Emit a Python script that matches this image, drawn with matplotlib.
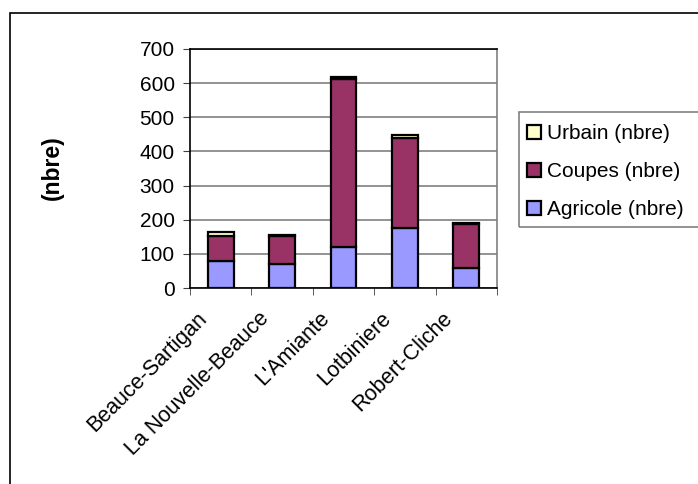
#!/usr/bin/env python
import matplotlib.pyplot as plt
import matplotlib.transforms as mtransforms
from matplotlib.patches import Rectangle
import numpy as np

plt.rcParams["font.family"] = ["Liberation Sans", "DejaVu Sans"]

regions = ["Beauce-Sartigan", "La Nouvelle-Beauce", "L'Amiante", "Lotbiniere", "Robert-Cliche"]
agricole = [80, 70, 121, 176, 58]
coupes = [72, 83, 490, 264, 130]
urbain = [12, 1, 6, 8, 1]

fig = plt.figure(figsize=(6.98, 4.84), dpi=100)
ax = fig.add_axes([190 / 698, 1 - 288 / 484, 307 / 698, 239 / 484])

x = np.arange(len(regions))
w = 0.42
kw = dict(width=w, edgecolor="black", linewidth=1.6, zorder=3)
ax.bar(x, agricole, color="#9999FF", label="Agricole (nbre)", **kw)
bottom2 = np.array(agricole)
ax.bar(x, coupes, bottom=bottom2, color="#993366", label="Coupes (nbre)", **kw)
bottom3 = bottom2 + np.array(coupes)
ax.bar(x, urbain, bottom=bottom3, color="#FFFFCC", label="Urbain (nbre)", **kw)

ax.set_xlim(-0.5, len(regions) - 0.5)
ax.set_ylim(0, 700)
ax.set_yticks(range(0, 701, 100))
ax.yaxis.grid(True, color="#808080", linewidth=1.2, zorder=0)
ax.set_axisbelow(True)

ax.set_xticks(x)
ax.set_xticklabels(regions, rotation=45, ha="right", va="top", rotation_mode="anchor", fontsize=15.5)
ax.tick_params(axis="x", length=0, pad=2)
offset = mtransforms.ScaledTranslation(-24 / 100, -17 / 100, fig.dpi_scale_trans)
for lab in ax.get_xticklabels():
    lab.set_transform(lab.get_transform() + offset)
ax.set_xticks(np.arange(-0.5, len(regions)), minor=True)
ax.tick_params(axis="x", which="minor", length=5, direction="out", color="#404040")
ax.tick_params(axis="y", length=5, direction="out", color="#404040", labelsize=15, pad=6)

for s in ["left", "bottom", "top"]:
    ax.spines[s].set_color("black")
    ax.spines[s].set_linewidth(1.2)
ax.spines["right"].set_color("#808080")
ax.spines["right"].set_linewidth(1.2)

fig.text(52 / 698, 1 - 168 / 484, "(nbre)", rotation=90, fontsize=16.5, fontweight="bold",
         ha="center", va="center")

handles, labels = ax.get_legend_handles_labels()
leg = fig.legend(handles[::-1], labels[::-1], loc="upper left",
                 bbox_to_anchor=(527 / 698, 1 - 124 / 484), fontsize=15,
                 frameon=False, handlelength=0.65, handleheight=0.65, handletextpad=0.33,
                 labelspacing=0.92, borderpad=0, borderaxespad=0)

fig.patches.append(Rectangle((519 / 698, 1 - 227 / 484), 0.3, 115 / 484,
                             transform=fig.transFigure, fill=False,
                             edgecolor="#808080", linewidth=1.2))
fig.patches.append(Rectangle((10 / 698, -0.1), 1.2, 1 - 13 / 484 + 0.1,
                             transform=fig.transFigure, fill=False,
                             edgecolor="black", linewidth=1.2))

plt.savefig("out.png", dpi=100)
plt.close()
